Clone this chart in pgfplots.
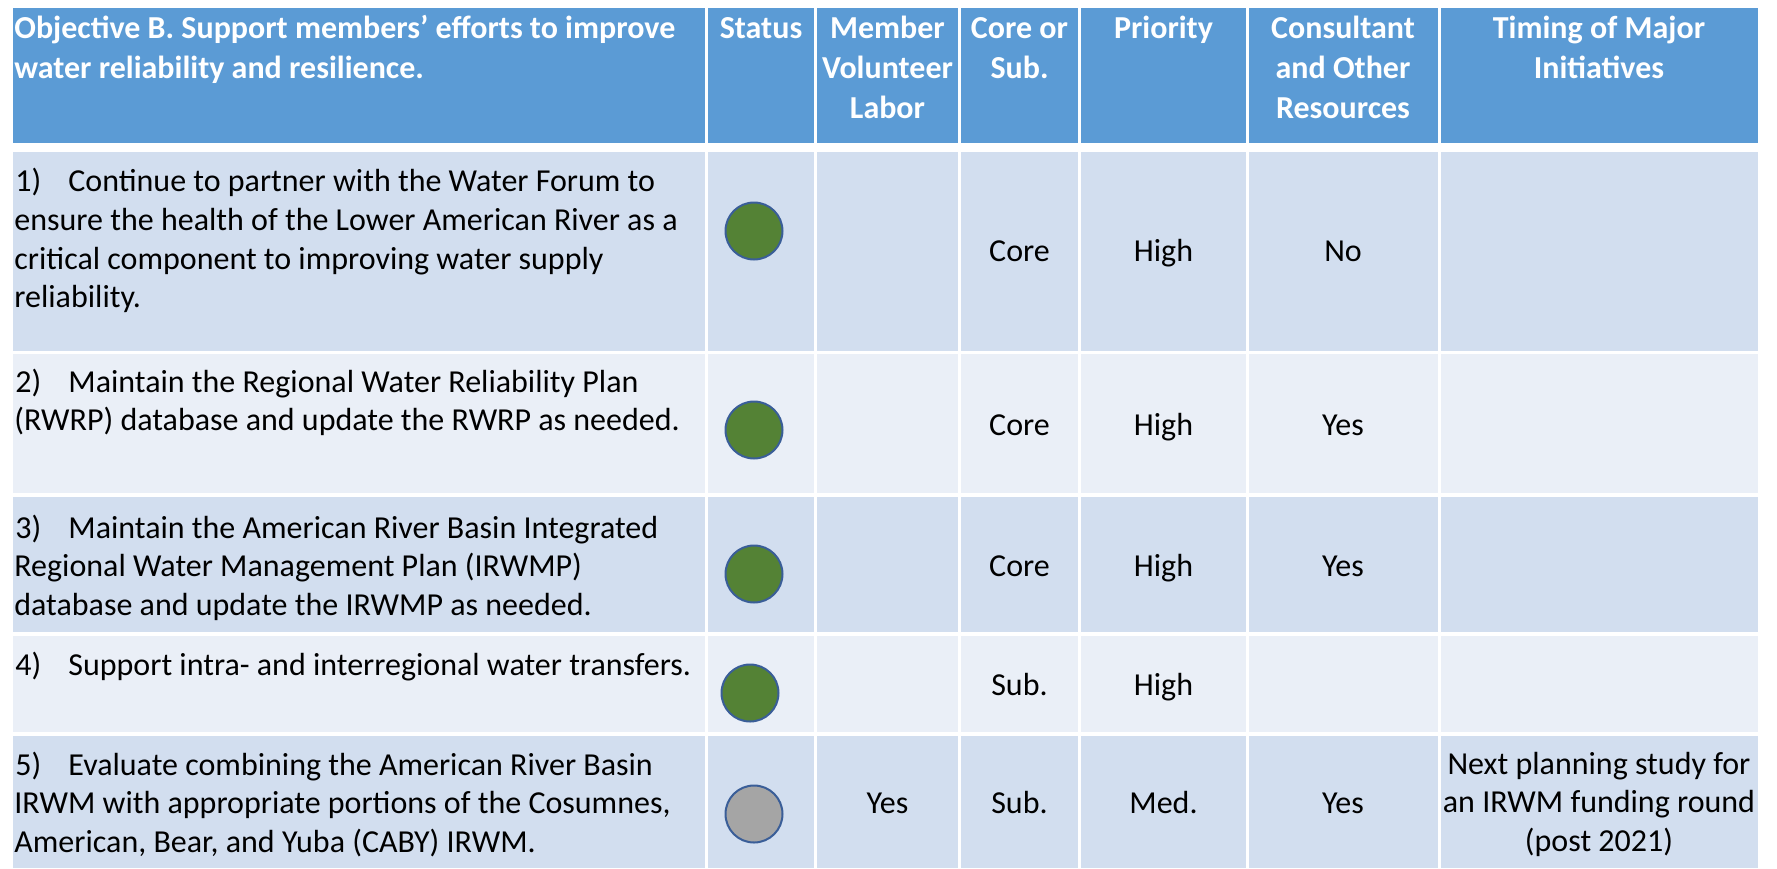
\documentclass[border=0pt]{standalone}
\usepackage{fontspec}
\setmainfont{Carlito}
\usepackage{pgfplots}
\pgfplotsset{compat=1.18}
\definecolor{hdr}{HTML}{5B9BD5}
\definecolor{bandA}{HTML}{D2DEEF}
\definecolor{bandB}{HTML}{EAEFF7}
\definecolor{stgreen}{HTML}{548235}
\definecolor{stgray}{HTML}{A5A5A5}
\definecolor{stline}{HTML}{3A5E98}
% one row of seven cells: colour, top, bottom
\newcommand{\cellrow}[3]{%
  \fill[#1] (axis cs:13,#2) rectangle (axis cs:705,#3);
  \fill[#1] (axis cs:708,#2) rectangle (axis cs:814,#3);
  \fill[#1] (axis cs:817,#2) rectangle (axis cs:958,#3);
  \fill[#1] (axis cs:961,#2) rectangle (axis cs:1078,#3);
  \fill[#1] (axis cs:1081,#2) rectangle (axis cs:1246,#3);
  \fill[#1] (axis cs:1249,#2) rectangle (axis cs:1438,#3);
  \fill[#1] (axis cs:1441,#2) rectangle (axis cs:1758,#3);}
\newcommand{\TL}[3]{\node[anchor=base west,inner sep=0pt] at (axis cs:#1,#2) {#3};}
\newcommand{\TC}[3]{\node[anchor=base,inner sep=0pt] at (axis cs:#1,#2) {#3};}
\begin{document}
\begin{tikzpicture}
\begin{axis}[width=888.5pt,height=434pt,scale only axis,
  xmin=0,xmax=1777,ymin=0,ymax=868,y dir=reverse,
  hide axis,clip=false,
  font=\fontsize{16}{19.15}\selectfont]
\path (axis cs:0,0) rectangle (axis cs:1777,868);
\cellrow{hdr}{8}{143}
\cellrow{bandA}{152}{351}
\cellrow{bandB}{354}{493}
\cellrow{bandA}{497}{632}
\cellrow{bandB}{636}{732}
\cellrow{bandA}{736}{868}

% status markers
\addplot[only marks, mark=*, mark size=14.25pt,
  mark options={fill=stgreen, draw=stline, line width=1pt}]
  coordinates {(754,231) (754,430) (754,574) (750,693)};
\addplot[only marks, mark=*, mark size=14.25pt,
  mark options={fill=stgray, draw=stline, line width=1pt}]
  coordinates {(754,814)};

% header
\begin{scope}[text=white, font=\fontsize{16}{19.15}\selectfont\bfseries]
\TL{14}{38}{Objective B. Support members’ efforts to improve}
\TL{14}{78}{water reliability and resilience.}
\TC{761}{38}{Status}
\TC{887.5}{38}{Member}
\TC{887.5}{78}{Volunteer}
\TC{887.5}{118}{Labor}
\TC{1019.5}{38}{Core or}
\TC{1019.5}{78}{Sub.}
\TC{1163.5}{38}{Priority}
\TC{1343}{38}{Consultant}
\TC{1343}{78}{and Other}
\TC{1343}{118}{Resources}
\TC{1599}{38}{Timing of Major}
\TC{1599}{78}{Initiatives}
\end{scope}

% row 1
\TL{15}{191.7}{1)}
\TL{68}{191.7}{Continue to partner with the Water Forum to}
\TL{14}{230.4}{ensure the health of the Lower American River as a}
\TL{14}{269.1}{critical component to improving water supply}
\TL{14}{307.8}{reliability.}
\TC{1019.5}{261.7}{Core}
\TC{1163.5}{261.7}{High}
\TC{1343}{261.7}{No}
% row 2
\TL{15}{392}{2)}
\TL{68}{392}{Maintain the Regional Water Reliability Plan}
\TL{14}{430.6}{(RWRP) database and update the RWRP as needed.}
\TC{1019.5}{435}{Core}
\TC{1163.5}{435}{High}
\TC{1343}{435}{Yes}
% row 3
\TL{15}{538}{3)}
\TL{68}{538}{Maintain the American River Basin Integrated}
\TL{14}{576.6}{Regional Water Management Plan (IRWMP)}
\TL{14}{615.2}{database and update the IRWMP as needed.}
\TC{1019.5}{576.7}{Core}
\TC{1163.5}{576.7}{High}
\TC{1343}{576.7}{Yes}
% row 4
\TL{15}{675}{4)}
\TL{68}{675}{Support intra- and interregional water transfers.}
\TC{1019.5}{695}{Sub.}
\TC{1163.5}{695}{High}
% row 5
\TL{15}{775}{5)}
\TL{68}{775}{Evaluate combining the American River Basin}
\TL{14}{813.6}{IRWM with appropriate portions of the Cosumnes,}
\TL{14}{852.2}{American, Bear, and Yuba (CABY) IRWM.}
\TC{887.5}{813.3}{Yes}
\TC{1019.5}{813.3}{Sub.}
\TC{1163.5}{813.3}{Med.}
\TC{1343}{813.3}{Yes}
\TC{1599}{774}{Next planning study for}
\TC{1599}{812.6}{an IRWM funding round}
\TC{1599}{851.2}{(post 2021)}
\end{axis}
\end{tikzpicture}
\end{document}
